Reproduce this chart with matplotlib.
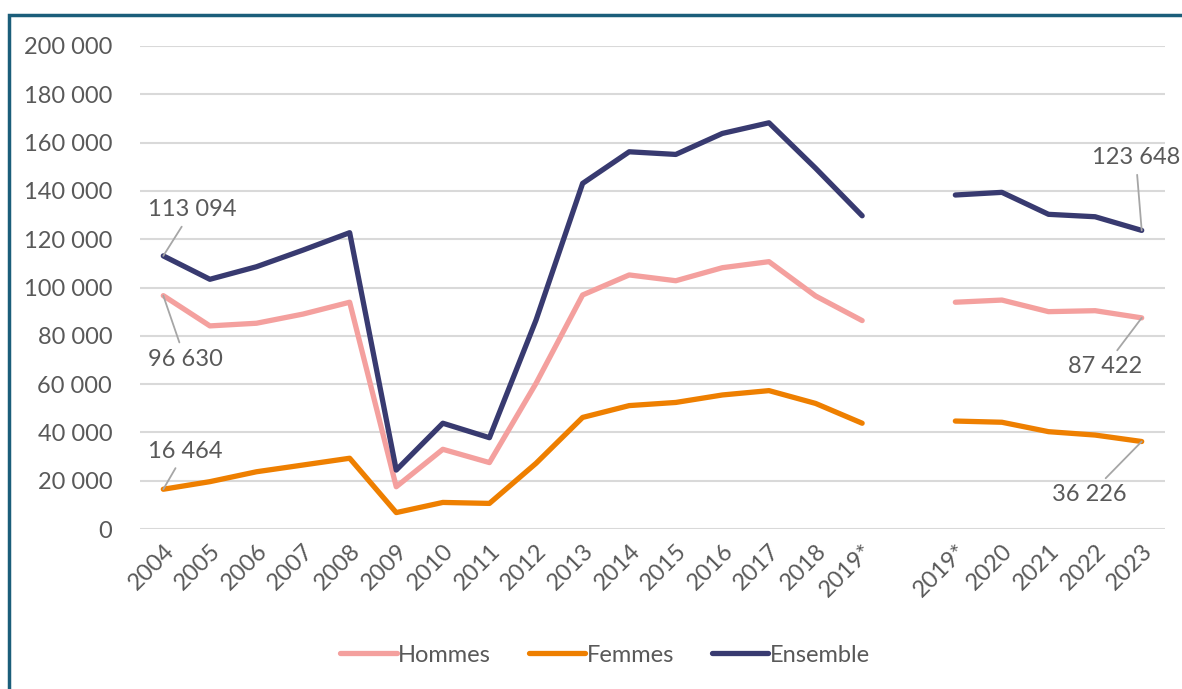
import numpy as np
import matplotlib.pyplot as plt
from matplotlib.patches import Rectangle

plt.rcParams['font.family'] = ['Lato', 'DejaVu Sans']

# categories (empty slot separates the two series breaks)
years = ['2004', '2005', '2006', '2007', '2008', '2009', '2010', '2011', '2012',
         '2013', '2014', '2015', '2016', '2017', '2018', '2019*', '',
         '2019*', '2020', '2021', '2022', '2023']

nan = np.nan
hommes = [96630, 84100, 85200, 89000, 93900, 17500, 33000, 27500, 60300,
          96900, 105200, 102800, 108200, 110700, 96500, 86300, nan,
          93900, 94800, 90000, 90400, 87422]
femmes = [16464, 19600, 23700, 26500, 29300, 6800, 11000, 10600, 27200,
          46200, 51100, 52400, 55500, 57300, 52000, 43800, nan,
          44700, 44200, 40300, 38900, 36226]
ensemble = [113094, 103400, 108600, 115500, 122700, 24400, 43800, 37800, 86500,
            143100, 156200, 155100, 163800, 168200, 149400, 129700, nan,
            138300, 139400, 130300, 129300, 123648]

c_h = '#F4A09E'
c_f = '#EE7F00'
c_e = '#383A70'
txt = '#595959'
fs = 17

fig = plt.figure(figsize=(11.82, 6.89), dpi=100)
ax = fig.add_axes([140 / 1182, 160 / 689, 1025 / 1182, 483 / 689])

x = np.arange(len(years))
for vals, col, name in [(hommes, c_h, 'Hommes'), (femmes, c_f, 'Femmes'),
                        (ensemble, c_e, 'Ensemble')]:
    ax.plot(x, vals, color=col, lw=3.8, label=name,
            solid_capstyle='round', solid_joinstyle='round')

ax.set_xlim(-0.5, len(years) - 0.5)
ax.set_ylim(0, 200000)
ax.set_yticks(np.arange(0, 200001, 20000))
ax.set_yticklabels([f'{v:,}'.replace(',', ' ') for v in range(0, 200001, 20000)],
                   fontsize=fs, color=txt)
ax.set_xticks(x)
ax.set_xticklabels(years, rotation=45, ha='right', rotation_mode='anchor',
                   fontsize=fs, color=txt)
ax.tick_params(length=0, pad=8)
ax.tick_params(axis='y', pad=20)
ax.grid(axis='y', color='#D9D9D9', lw=1.5)
ax.set_axisbelow(True)
for s in ax.spines.values():
    s.set_visible(False)

# data labels with leader lines
def label(i, series, dx, dy):
    v = series[i]
    ax.annotate(f'{v:,}'.replace(',', ' '), (x[i], v), xytext=(dx, dy),
                textcoords='offset pixels', ha='center', va='center',
                fontsize=fs, color=txt,
                arrowprops=dict(arrowstyle='-', color='#A6A6A6', lw=1.3,
                                shrinkA=3, shrinkB=0))

label(0, ensemble, 29, 46)
label(0, hommes, 22, -64)
label(0, femmes, 22, 38)
label(21, ensemble, -6, 73)
label(21, hommes, -37, -49)
label(21, femmes, -52, -53)

fig.legend(loc='center', bbox_to_anchor=(605 / 1182, 1 - 655 / 689), ncol=3,
           frameon=False, fontsize=fs, labelcolor=txt, handlelength=2.4,
           handletextpad=0.05, columnspacing=1.6)

# outer frame
fig.patches.append(Rectangle((9 / 1182, -0.1), 1.2, 1 - 15 / 689 + 0.1,
                             transform=fig.transFigure, fill=False,
                             edgecolor='#1B5E7A', lw=2.5))

fig.savefig('out.png', dpi=100)
